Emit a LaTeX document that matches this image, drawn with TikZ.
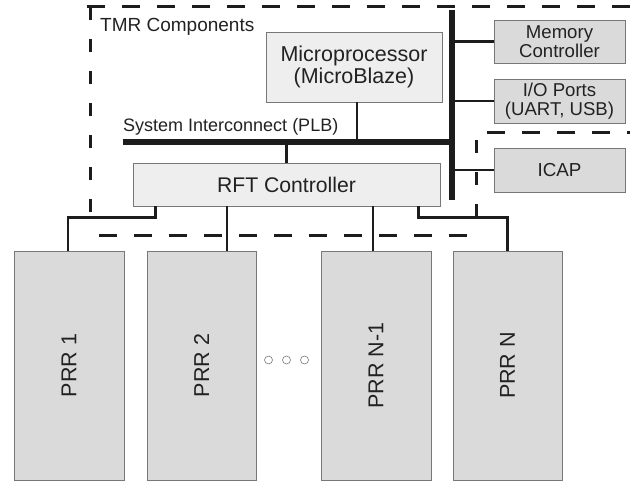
\documentclass[tikz,border=0pt]{standalone}
\usepackage{fontspec}
\usepackage{graphicx}
\setmainfont{Liberation Sans}
\definecolor{boxline}{HTML}{777777}
\definecolor{lightfill}{HTML}{EEEEEE}
\definecolor{darkfill}{HTML}{DADADA}
\definecolor{wire}{HTML}{1C1C1C}
\definecolor{txt}{HTML}{222222}
\begin{document}
\begin{tikzpicture}[x=1pt,y=-1pt,
  lbox/.style={draw=boxline, fill=lightfill, line width=0.9pt, inner sep=0pt, align=center, text=txt},
  dbox/.style={lbox, fill=darkfill},
  conn/.style={line width=2.8pt, draw=wire},
  bus/.style={line width=5.5pt, draw=wire},
  tmrh/.style={line width=3pt, draw=wire, dash pattern=on 18pt off 17pt},
  tmrv/.style={line width=3pt, draw=wire, dash pattern=on 13pt off 19pt},
  lbl/.style={inner sep=0pt, text=txt},
  dot/.style={circle, draw=boxline, line width=0.6pt, minimum size=8pt, inner sep=0pt},
  prrfont/.style={font=\fontsize{21.5}{22}\selectfont}
]
\useasboundingbox (0,0) rectangle (630,481);

% TMR boundary (dashed)
\coordinate (t1) at (87,7);
\coordinate (t2) at (630,7);
\coordinate (l2) at (90,227);
\coordinate (b1) at (99,236);
\coordinate (b2) at (467,236);
\coordinate (rv1) at (476,140);
\coordinate (rv2) at (476,227);
\coordinate (rh1) at (487,133);
\coordinate (rh2) at (630,133);
\draw[tmrh] (t1) -- (t2);
\draw[tmrv] (t1 -| l2) -- (l2);
\draw[tmrh] (b1) -- (b2);
\draw[tmrv] (rv1) -- (rv2);
\draw[tmrh] (rh1) -- (rh2);

% boxes
\node[lbox, minimum width=176pt, minimum height=70pt, font=\fontsize{21.5}{22.5}\selectfont] (mp) at (354,67) {Microprocessor\\(MicroBlaze)};
\node[lbox, minimum width=307pt, minimum height=43pt, font=\fontsize{21.2}{22}\selectfont] (rft) at (286.5,184.5) {RFT Controller};
\node[dbox, minimum width=131pt, minimum height=43pt, font=\fontsize{18.6}{18.5}\selectfont] (mem) at (559.5,41.5) {Memory\\Controller};
\node[dbox, minimum width=131pt, minimum height=44pt, font=\fontsize{18.6}{18.5}\selectfont] (io) at (559.5,101) {I/O Ports\\(UART, USB)};
\node[dbox, minimum width=131pt, minimum height=44pt, font=\fontsize{18.8}{19}\selectfont] (icap) at (559.5,170) {ICAP};

\node[dbox, prrfont, minimum width=110pt, minimum height=229pt] (p1) at (69,365.5) {\rotatebox{90}{PRR 1}};
\node[dbox, prrfont, minimum width=109pt, minimum height=229pt] (p2) at (201.5,365.5) {\rotatebox{90}{PRR 2}};
\node[dbox, prrfont, minimum width=110pt, minimum height=229pt] (pn1) at (376,365.5) {\rotatebox{90}{PRR N-1}};
\node[dbox, prrfont, minimum width=109pt, minimum height=229pt] (pn) at (507.5,365.5) {\rotatebox{90}{PRR N}};

\node[dot] (d1) at (268.5,360) {};
\node[dot] (d2) at (286.5,360) {};
\node[dot] (d3) at (304.5,360) {};

% labels
\node[lbl, anchor=base west, font=\fontsize{19}{20}\selectfont] (tmrlbl) at (100,32) {TMR Components};
\node[lbl, anchor=base west, font=\fontsize{18}{19}\selectfont] (plblbl) at (123,132) {System Interconnect (PLB)};

% buses
\coordinate (bustop) at (452,10);
\coordinate (busbot) at (452,200);
\coordinate (plbL) at (123,142);
\draw[bus] (bustop) -- (busbot);
\draw[bus] (plbL) -- (plbL -| bustop);

% connectors
\draw[conn] ([xshift=3pt]mp.south) -- ([xshift=3pt]mp.south |- plbL);
\draw[conn] (rft.north) -- (rft.north |- plbL);
\draw[conn] (bustop |- mem.west) -- (mem.west);
\draw[conn] (bustop |- io.west) -- (io.west);
\draw[conn] (bustop |- icap.west) -- (icap.west);

\draw[conn] ([xshift=23pt]rft.south west) -- ++(0,11) -| ([xshift=-1pt]p1.north);
\draw[conn] ([xshift=25.5pt]p2.north) -- ([xshift=25.5pt]p2.north |- rft.south);
\draw[conn] ([xshift=-3pt]pn1.north) -- ([xshift=-3pt]pn1.north |- rft.south);
\draw[conn] ([xshift=-22pt]rft.south east) -- ++(0,11) -| (pn.north);
\end{tikzpicture}
\end{document}
